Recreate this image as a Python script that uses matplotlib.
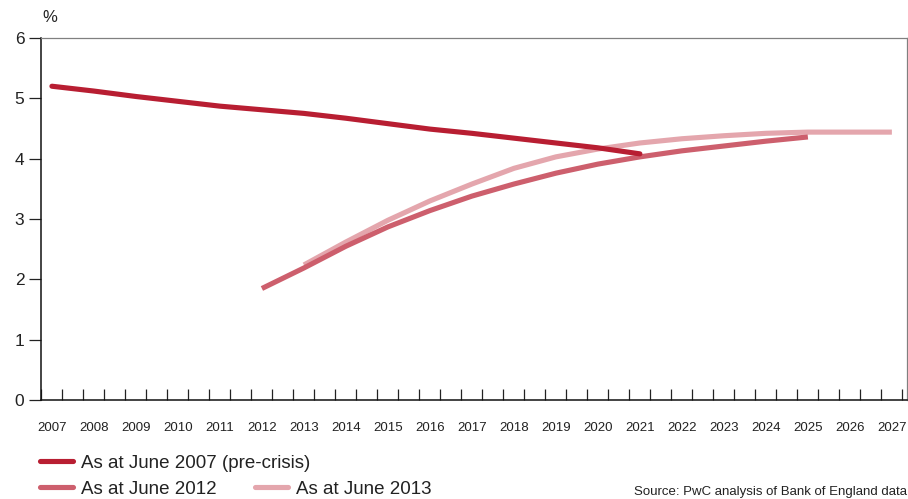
import matplotlib.pyplot as plt
from matplotlib.ticker import MultipleLocator, FixedLocator, NullFormatter
import numpy as np

plt.rcParams['font.family'] = ['Liberation Sans', 'DejaVu Sans']

# forward rate curves (%), one value per year
years_2007 = [2007, 2008, 2009, 2010, 2011, 2012, 2013, 2014, 2015, 2016, 2017, 2018, 2019, 2020, 2021]
rate_2007 = [5.20, 5.12, 5.03, 4.95, 4.87, 4.81, 4.75, 4.67, 4.58, 4.49, 4.42, 4.34, 4.26, 4.18, 4.08]

years_2012 = [2012, 2013, 2014, 2015, 2016, 2017, 2018, 2019, 2020, 2021, 2022, 2023, 2024, 2025]
rate_2012 = [1.85, 2.19, 2.55, 2.87, 3.14, 3.38, 3.58, 3.76, 3.91, 4.03, 4.13, 4.21, 4.29, 4.36]

years_2013 = [2013, 2014, 2015, 2016, 2017, 2018, 2019, 2020, 2021, 2022, 2023, 2024, 2025, 2026, 2027]
rate_2013 = [2.24, 2.62, 2.98, 3.30, 3.58, 3.84, 4.03, 4.16, 4.26, 4.33, 4.38, 4.42, 4.44, 4.44, 4.44]

year_labels = list(range(2007, 2028))

fig = plt.figure(figsize=(9.08, 4.99), dpi=100)
ax = fig.add_axes([41/908, 0.198, 866/908, 0.726])

lw = 3.7
l1, = ax.plot(years_2007, rate_2007, color='#b81e32', lw=lw, solid_capstyle='round',
              label='As at June 2007 (pre-crisis)', zorder=4)
l3, = ax.plot(years_2013, rate_2013, color='#e4a6ad', lw=lw, solid_capstyle='butt',
              label='As at June 2013', zorder=2)
l2, = ax.plot(years_2012, rate_2012, color='#cd5f6d', lw=lw, solid_capstyle='butt',
              label='As at June 2012', zorder=3)

ax.set_xlim(2006.74, 2027.36)
ax.set_ylim(0, 6)

# half-year ticks pointing in, year labels in between
ax.xaxis.set_major_locator(FixedLocator(np.arange(2006.75, 2027.3, 0.5)))
ax.xaxis.set_major_formatter(NullFormatter())
ax.xaxis.set_minor_locator(FixedLocator(year_labels))
ax.set_xticklabels([str(y) for y in year_labels], minor=True)
ax.tick_params(axis='x', which='major', direction='in', length=8, width=0.9, color='#222222')
ax.tick_params(axis='x', which='minor', length=0, pad=16, labelsize=9.5, labelcolor='#222222')

ax.yaxis.set_major_locator(MultipleLocator(1))
ax.tick_params(axis='y', direction='out', length=9, width=0.9, labelsize=12.5, pad=3,
               color='#222222', labelcolor='#222222')

for side in ['left', 'bottom']:
    ax.spines[side].set_color('#111111')
    ax.spines[side].set_linewidth(1.1)
for side in ['top', 'right']:
    ax.spines[side].set_color('#808080')
    ax.spines[side].set_linewidth(0.9)

fig.text(42/908, 1 - 18/499, '%', fontsize=12, color='#222222', va='center', ha='left')

leg_kw = dict(frameon=False, fontsize=13.5, handlelength=1.75, handletextpad=0.45,
              borderpad=0, borderaxespad=0, loc='center left')
leg1 = fig.legend(handles=[l1], bbox_to_anchor=(40/908, 1 - 463/499), **leg_kw)
leg2 = fig.legend(handles=[l2, l3], bbox_to_anchor=(40/908, 1 - 489/499),
                  columnspacing=0.55 + 28/18.75, ncol=2, **leg_kw)
for leg in (leg1, leg2):
    for h in leg.legend_handles:
        h.set_solid_capstyle('round')
    for t in leg.get_texts():
        t.set_color('#222222')

fig.text(907/908, 1 - 492/499, 'Source: PwC analysis of Bank of England data',
         fontsize=9.5, color='#222222', ha='right', va='center')

fig.savefig('out.png', dpi=100)
